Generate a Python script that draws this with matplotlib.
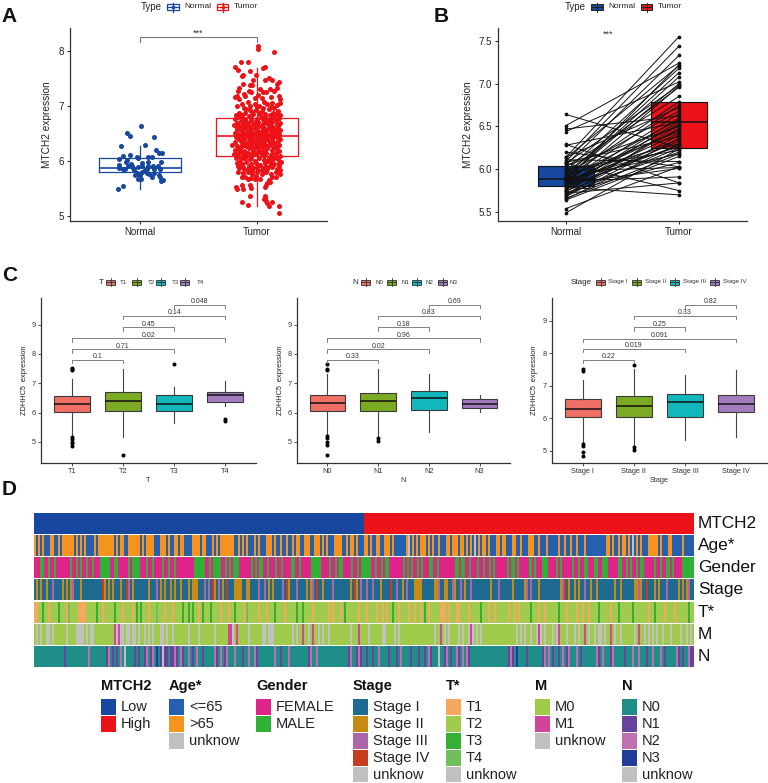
import numpy as np
import matplotlib
matplotlib.use('Agg')
import matplotlib.pyplot as plt
from matplotlib.colors import ListedColormap
from matplotlib.patches import Rectangle

plt.rcParams['font.family'] = ['Liberation Sans', 'DejaVu Sans']

# Panel A points (x is the jittered position)
normal_points = [
    (1.01, 6.64), (0.89, 6.51), (0.91, 6.45), (1.12, 6.44), (0.84, 6.28), (1.04, 6.29), (1.14, 6.21), (1.16, 6.15),
    (1.19, 6.14), (0.85, 6.09), (0.91, 6.11), (1.10, 6.08), (1.07, 6.07), (0.98, 6.06), (0.97, 6.07), (0.82, 6.04),
    (0.89, 6.02), (0.88, 5.98), (1.02, 5.97), (1.07, 5.98), (1.18, 5.98), (0.92, 5.95), (0.82, 5.93), (0.93, 5.92),
    (1.02, 5.91), (1.07, 5.91), (1.11, 5.91), (1.15, 5.92), (0.90, 5.91), (0.98, 5.89), (0.82, 5.88), (0.85, 5.86),
    (0.87, 5.86), (0.94, 5.87), (1.06, 5.86), (1.12, 5.85), (1.17, 5.86), (1.02, 5.81), (1.06, 5.78), (1.08, 5.77),
    (1.12, 5.79), (0.97, 5.79), (0.96, 5.74), (0.98, 5.76), (0.98, 5.68), (1.01, 5.68), (1.10, 5.72), (1.16, 5.74),
    (1.17, 5.72), (1.18, 5.64), (1.20, 5.65), (0.85, 5.54), (0.81, 5.49), (1.04, 5.84), (0.95, 5.83), (1.00, 5.74),
]
tumor_points = [
    (2.01, 8.10), (2.01, 8.04), (2.15, 7.98), (1.86, 7.81), (1.92, 7.81), (1.81, 7.71), (1.84, 7.66), (2.05, 7.69),
    (2.07, 7.71), (1.87, 7.54), (1.88, 7.56), (1.94, 7.63), (1.99, 7.56), (2.10, 7.51), (2.07, 7.47), (2.19, 7.44),
    (2.17, 7.40), (1.88, 7.41), (1.97, 7.48), (1.96, 7.38), (1.94, 7.39), (2.13, 7.47), (1.85, 7.33), (1.84, 7.28),
    (1.89, 7.22), (1.81, 7.16), (1.83, 7.18), (1.85, 7.12), (1.90, 7.18), (1.93, 7.27), (1.95, 7.25), (2.03, 7.31),
    (2.05, 7.25), (2.08, 7.26), (2.11, 7.31), (2.15, 7.28), (2.17, 7.32), (2.19, 7.18), (2.20, 7.13), (2.12, 7.17),
    (2.04, 7.15), (2.01, 7.21), (1.98, 7.14), (1.92, 7.08), (1.87, 7.03), (1.83, 7.00), (1.89, 6.96), (1.94, 7.01),
    (1.98, 7.04), (2.02, 7.00), (2.06, 7.07), (2.09, 7.03), (2.13, 7.06), (2.17, 7.02), (2.20, 7.05), (2.15, 6.97),
    (2.10, 6.94), (2.05, 6.96), (1.99, 6.93), (1.96, 6.90), (1.91, 6.94), (1.85, 6.88), (1.82, 6.83), (1.81, 6.76),
    (1.84, 6.80), (1.87, 6.84), (1.93, 6.82), (1.97, 6.85), (2.02, 6.87), (2.07, 6.86), (2.11, 6.84), (2.14, 6.88),
    (2.18, 6.91), (2.20, 6.84), (2.19, 6.78), (2.16, 6.74), (2.12, 6.78), (2.08, 6.76), (2.04, 6.79), (2.00, 6.77),
    (1.95, 6.74), (1.90, 6.76), (1.86, 6.72), (1.83, 6.70), (1.80, 6.66), (1.85, 6.64), (1.88, 6.67), (1.92, 6.69),
    (1.97, 6.68), (2.01, 6.71), (2.05, 6.68), (2.09, 6.70), (2.13, 6.71), (2.17, 6.68), (2.20, 6.70), (2.18, 6.63),
    (2.14, 6.62), (2.10, 6.64), (2.06, 6.61), (2.02, 6.63), (1.98, 6.60), (1.94, 6.62), (1.90, 6.60), (1.86, 6.57),
    (1.83, 6.58), (1.81, 6.52), (1.84, 6.50), (1.88, 6.53), (1.92, 6.55), (1.96, 6.52), (2.00, 6.56), (2.04, 6.54),
    (2.08, 6.57), (2.12, 6.55), (2.16, 6.57), (2.20, 6.56), (2.19, 6.49), (2.15, 6.50), (2.11, 6.48), (2.07, 6.50),
    (2.03, 6.47), (1.99, 6.49), (1.95, 6.46), (1.91, 6.48), (1.87, 6.45), (1.82, 6.43), (1.85, 6.40), (1.89, 6.41),
    (1.93, 6.42), (1.97, 6.39), (2.01, 6.42), (2.05, 6.40), (2.09, 6.43), (2.13, 6.41), (2.17, 6.44), (2.20, 6.40),
    (2.18, 6.36), (2.14, 6.34), (2.10, 6.37), (2.06, 6.33), (2.02, 6.36), (1.98, 6.32), (1.94, 6.35), (1.90, 6.33),
    (1.86, 6.36), (1.81, 6.35), (1.79, 6.30), (1.83, 6.28), (1.87, 6.30), (1.91, 6.27), (1.95, 6.29), (1.99, 6.26),
    (2.03, 6.30), (2.07, 6.27), (2.11, 6.29), (2.15, 6.26), (2.19, 6.30), (2.17, 6.22), (2.13, 6.20), (2.09, 6.23),
    (2.05, 6.19), (2.01, 6.22), (1.97, 6.20), (1.93, 6.23), (1.89, 6.19), (1.85, 6.22), (1.81, 6.20), (1.80, 6.13),
    (1.84, 6.15), (1.88, 6.12), (1.92, 6.14), (1.96, 6.11), (2.00, 6.15), (2.04, 6.12), (2.08, 6.14), (2.12, 6.11),
    (2.16, 6.14), (2.20, 6.10), (2.18, 6.04), (2.21, 5.99), (2.14, 6.03), (2.10, 6.06), (2.06, 6.02), (2.02, 6.05),
    (1.98, 6.01), (1.94, 6.04), (1.90, 6.06), (1.86, 6.03), (1.82, 6.05), (1.83, 5.97), (1.87, 5.95), (1.91, 5.98),
    (1.95, 5.94), (1.99, 5.97), (2.03, 5.93), (2.07, 5.96), (2.11, 5.92), (2.15, 5.95), (2.19, 5.91), (2.20, 5.84),
    (2.17, 5.86), (2.13, 5.89), (2.09, 5.85), (2.05, 5.88), (2.01, 5.84), (1.97, 5.87), (1.93, 5.89), (1.89, 5.85),
    (1.85, 5.88), (1.84, 5.81), (1.88, 5.78), (1.92, 5.80), (1.96, 5.76), (2.00, 5.80), (2.04, 5.77), (2.08, 5.81),
    (2.12, 5.77), (2.20, 5.76), (2.16, 5.72), (2.13, 5.71), (2.10, 5.66), (2.11, 5.62), (2.09, 5.60), (2.03, 5.68),
    (1.99, 5.73), (1.95, 5.70), (1.92, 5.67), (1.90, 5.71), (1.87, 5.72), (1.94, 5.57), (1.95, 5.52), (1.98, 5.67),
    (1.82, 5.53), (1.83, 5.50), (1.88, 5.50), (1.87, 5.57), (1.94, 5.37), (2.07, 5.53), (2.08, 5.56), (2.07, 5.37),
    (2.07, 5.33), (2.06, 5.31), (2.08, 5.28), (2.09, 5.24), (2.10, 5.19), (2.13, 5.25), (2.19, 5.18), (2.19, 5.06),
    (1.92, 5.21), (1.87, 5.25), (1.83, 6.60), (1.88, 6.35), (1.92, 6.28), (1.96, 6.44), (2.00, 6.34), (2.04, 6.25),
    (2.08, 6.45), (2.12, 6.38), (2.16, 6.46), (1.84, 6.10), (1.90, 6.17), (1.94, 6.40), (2.02, 6.52), (2.10, 6.59),
    (1.86, 6.47), (1.98, 6.66), (2.06, 6.72), (2.14, 6.52), (1.89, 6.08), (1.93, 5.92), (2.07, 6.18), (2.11, 6.01),
    (1.95, 6.58), (2.03, 6.38), (1.85, 5.99), (2.15, 6.32), (1.97, 6.16), (2.05, 6.48), (1.91, 6.64), (2.09, 6.28),
    (1.90, 6.50), (1.93, 6.37), (1.96, 6.25), (1.99, 6.40), (2.02, 6.28), (2.05, 6.34), (2.08, 6.40), (2.11, 6.33),
    (2.14, 6.44), (2.17, 6.28), (1.86, 6.26), (1.89, 6.30), (1.93, 6.50), (1.96, 6.35), (1.99, 6.53), (2.02, 6.44),
    (2.05, 6.60), (2.08, 6.52), (2.11, 6.67), (2.14, 6.58), (2.17, 6.52), (1.88, 6.61), (1.91, 6.71), (1.95, 6.79),
    (1.99, 6.72), (2.03, 6.83), (2.07, 6.80), (2.11, 6.73), (2.15, 6.80), (1.87, 6.78), (1.90, 6.88), (1.94, 6.92),
    (2.00, 6.99), (2.04, 6.91), (2.12, 6.99), (2.17, 6.86), (1.87, 6.16), (1.91, 6.09), (1.95, 6.05), (1.99, 6.12),
    (2.03, 6.16), (2.06, 6.09), (2.09, 6.01), (2.13, 6.13), (2.16, 6.07), (2.19, 6.18), (1.84, 5.92), (1.88, 5.90),
    (1.92, 5.85), (1.96, 5.82), (2.00, 5.90), (2.04, 5.83), (2.08, 5.90), (2.12, 5.97), (2.16, 5.81), (2.19, 5.97),
]
normal_box = dict(med=5.88, q1=5.80, q3=6.05, whislo=5.49, whishi=6.28, fliers=[])
tumor_box = dict(med=6.45, q1=6.10, q3=6.78, whislo=5.18, whishi=7.70, fliers=[])

# Panel B paired samples
paired_normal = [6.64, 6.51, 6.47, 6.44, 6.29, 6.28, 6.20, 6.14, 6.14, 6.13, 6.11, 6.09, 6.08, 6.07, 6.07,
                 6.05, 6.04, 6.03, 6.00, 5.98, 5.98, 5.96, 5.95, 5.94, 5.92, 5.91, 5.90, 5.90, 5.89, 5.89,
                 5.88, 5.87, 5.87, 5.86, 5.85, 5.85, 5.84, 5.84, 5.83, 5.82, 5.82, 5.81, 5.80, 5.79, 5.78,
                 5.77, 5.76, 5.75, 5.74, 5.73, 5.72, 5.71, 5.70, 5.69, 5.68, 5.66, 5.65, 5.64, 5.54, 5.49]
paired_tumor = [6.25, 7.24, 6.62, 7.02, 5.84, 6.55, 6.03, 7.55, 6.72, 7.21, 6.09, 7.44, 6.38, 6.98, 5.75,
                7.33, 6.50, 6.85, 6.22, 7.18, 6.02, 6.96, 6.68, 6.30, 7.13, 6.44, 7.00, 6.79, 6.18, 7.08,
                6.58, 6.26, 7.22, 5.91, 6.46, 6.75, 6.35, 6.97, 6.01, 6.53, 6.65, 6.42, 6.28, 5.70, 6.60,
                6.33, 6.56, 6.20, 6.48, 6.08, 5.84, 6.40, 6.25, 6.52, 6.36, 6.18, 6.30, 6.15, 6.03, 6.24]
paired_boxes = [dict(med=5.88, q1=5.80, q3=6.04, whislo=5.88, whishi=5.88, fliers=[]),
                dict(med=6.55, q1=6.25, q3=6.78, whislo=6.55, whishi=6.55, fliers=[])]

# Panel C box stats
t_labels = ['T1', 'T2', 'T3', 'T4']
t_stats = [
    dict(med=6.31, q1=6.03, q3=6.56, whislo=5.25, whishi=7.15, fliers=[7.44, 7.50, 7.52, 5.18, 5.10, 5.00, 4.95, 4.85]),
    dict(med=6.38, q1=6.05, q3=6.70, whislo=5.17, whishi=7.48, fliers=[4.55]),
    dict(med=6.30, q1=6.05, q3=6.60, whislo=5.63, whishi=6.88, fliers=[7.65]),
    dict(med=6.60, q1=6.35, q3=6.70, whislo=6.22, whishi=7.08, fliers=[5.78, 5.72]),
]
t_pvalues = ['0.1', '0.71', '0.02', '0.45', '0.14', '0.048']
n_labels = ['N0', 'N1', 'N2', 'N3']
n_stats = [
    dict(med=6.32, q1=6.05, q3=6.60, whislo=5.25, whishi=7.33, fliers=[7.65, 7.50, 7.45, 5.20, 5.15, 4.98, 4.88, 4.55]),
    dict(med=6.38, q1=6.05, q3=6.66, whislo=5.20, whishi=7.48, fliers=[5.13, 5.03]),
    dict(med=6.50, q1=6.08, q3=6.75, whislo=5.35, whishi=7.33, fliers=[]),
    dict(med=6.30, q1=6.15, q3=6.46, whislo=6.03, whishi=6.60, fliers=[]),
]
n_pvalues = ['0.33', '0.02', '0.96', '0.18', '0.83', '0.69']
stage_labels = ['Stage I', 'Stage II', 'Stage III', 'Stage IV']
stage_stats = [
    dict(med=6.30, q1=6.05, q3=6.58, whislo=5.25, whishi=7.17, fliers=[7.52, 7.45, 5.20, 5.15, 4.97, 4.86]),
    dict(med=6.37, q1=6.05, q3=6.68, whislo=5.15, whishi=7.50, fliers=[7.65, 5.12, 5.02]),
    dict(med=6.50, q1=6.04, q3=6.75, whislo=5.35, whishi=7.33, fliers=[]),
    dict(med=6.44, q1=6.20, q3=6.72, whislo=5.42, whishi=7.48, fliers=[]),
]
stage_pvalues = ['0.22', '0.019', '0.091', '0.25', '0.33', '0.82']
# bracket heights for the T and N panels, then for Stage
bracket_pairs = [(1, 2), (1, 3), (1, 4), (2, 3), (2, 4), (3, 4)]
bracket_y = [7.80, 8.17, 8.53, 8.92, 9.30, 9.68]
bracket_y_stage = [7.79, 8.13, 8.44, 8.80, 9.14, 9.48]

# Panel D annotation tracks, one character per sample column
track_mtch2 = 'L' * 165 + 'H' * 165
track_age = (
    'bababaaabbaababbbbbbabababaaaababbbbbbbbababbaabbbbbbab'
    'abbbbaaabbbabaabbabbaaaabbbbabbaaabababbbbbbbaabababaaa'
    'babaaabbbabaabaabaababbaabbbaabbbababaaabbbbaababbabaaa'
    'bbabaabbaabbbabaaaaaabuabababbbababaabaaabbabbbabbababa'
    'uababbabaaabbabbaaabbaabaaabbbaabaaabaaaaabaabaabaabaaa'
    'baaaaaaaaaabbabaababbabauababaaabbbbbabaaabbaaaaabaaaaa'
)
track_gender = (
    'fffmmffmffmfffffffmffmfmffmffmfffmmmmmffmmfffffmfmmmmff'
    'fmffmffffmffmffmfffffffffmmmmmffmfmmmmffmfmfmmmffffffmf'
    'mfmmffmfffmffmffffmmffmfffffmmmmmffffmffmfmmffffmffmfmm'
    'mmmffmffmfmmfffffffmfmfmffmfmfffmmffmffffffffmmfmmffmff'
    'fmffmffmfmffffffmfmmfmfffffmfmfffmmmffffmfmfffffmffmffm'
    'mfffmmffmmmfffffmmffmfmffmfmmfffffmffmffmmfmffffmmmmmm'
)
track_stage = (
    '1212112113111121212311121111111111421212111211431211111'
    '1121113121211212112111212221113131421312141112222112211'
    '1131131212111131421113111121231411211113111111112142131'
    '1311311121111411311213111222211111122311221132113121131'
    '1111111121113111111211111231311121111111111234121121211'
    '3112112111111112112111111223211411121211131111121212311'
)
track_t = (
    '1122322122223222142222111122222322122222322212222123232'
    '2212224222122212222322323221232223222212221223222214222'
    '2212221222322221222223223222212222222121222123222222122'
    '2122221221212232212222122122123212222211121222112222122'
    '2223222122122222212212122222322212212222223222122221221'
    '2212222322222122232222223222222212232222122221222222322'
)
track_m = (
    '0u0u00uu0u000000u0000uuuu0u0uu00000000001u1uu0uu0uu0u00'
    'u0u0u000uu0u00u0000000u0000u0000000u00000011u0100000u00'
    '0000uu0uuu000000000u0u00100u0100u0u00u0000000000u000100'
    '00u000000uu0000u0u00000000000000000u0010u0u0000u0u00u1u'
    '0u0u00000000000000000u0u0u00u00u1u0u000u0u1000u000u0u00'
    '10u00u0uu0u0010u00u000000u0100u0u0u0u00u000u0000u00u0u0'
)
track_n = (
    '000000000000000100000000000200000000120101020u000010100'
    '120120301u110112102100201020010000021020120002000100200'
    '2100000000200100020000000001200200000000000000012001210'
    '0100100200001000102000010001001021000u00120100210202100'
    '0000000000000000012103000010000000120201001020120002010'
    '0000002102000120000010002002000100200020100000210100211'
)

# Colours per track value
track_colors = {
    'MTCH2': {'L': '#17479e', 'H': '#ed1118'},
    'Age*': {'a': '#2560b0', 'b': '#f7941d', 'u': '#c0c0c0'},
    'Gender': {'f': '#de2488', 'm': '#2eb135'},
    'Stage': {'1': '#1f6a90', '2': '#c78a12', '3': '#aa66a8', '4': '#c43e1d', 'u': '#c0c0c0'},
    'T*': {'1': '#f5a95f', '2': '#a0cb4e', '3': '#35b035', '4': '#6fc05a', 'u': '#c0c0c0'},
    'M': {'0': '#a0ca4c', '1': '#d0449a', 'u': '#c0c0c0'},
    'N': {'0': '#1f8e88', '1': '#66439c', '2': '#bf70b0', '3': '#203c98', 'u': '#c0c0c0'},
}
track_data = {'MTCH2': track_mtch2, 'Age*': track_age, 'Gender': track_gender, 'Stage': track_stage,
              'T*': track_t, 'M': track_m, 'N': track_n}
legend_names = {
    'MTCH2': ['Low', 'High'],
    'Age*': ['<=65', '>65', 'unknow'],
    'Gender': ['FEMALE', 'MALE'],
    'Stage': ['Stage I', 'Stage II', 'Stage III', 'Stage IV', 'unknow'],
    'T*': ['T1', 'T2', 'T3', 'T4', 'unknow'],
    'M': ['M0', 'M1', 'unknow'],
    'N': ['N0', 'N1', 'N2', 'N3', 'unknow'],
}

BLUE = '#17479e'
RED = '#ed1118'
box_colors = ['#ef6f64', '#7caa24', '#11b7bb', '#a37cc0']
AXIS = '#333333'
W, H = 768, 783

fig = plt.figure(figsize=(W / 100, H / 100), dpi=100)


def px_axes(left, top, right, bottom):
    ax = fig.add_axes([left / W, 1 - bottom / H, (right - left) / W, (bottom - top) / H])
    ax.spines[['top', 'right']].set_visible(False)
    ax.spines[['left', 'bottom']].set_color(AXIS)
    ax.spines[['left', 'bottom']].set_linewidth(0.9)
    return ax


def ylabel_at(ax, text, x_px, left, right, size):
    ax.set_ylabel(text, fontsize=size, color='#222222')
    ax.yaxis.set_label_coords((x_px - left) / (right - left), 0.5)


# Panel A
left, right = 70, 327
ax = px_axes(left, 28, right, 220.5)
ax.set_xlim(0.4, 2.6)
ax.set_ylim(4.92, 8.42)
for stats, pos, col, points in [(normal_box, 1, BLUE, normal_points), (tumor_box, 2, RED, tumor_points)]:
    ax.bxp([stats], positions=[pos], widths=0.7, showcaps=False, showfliers=False,
           boxprops=dict(color=col, lw=0.9), medianprops=dict(color=col, lw=1.2),
           whiskerprops=dict(color=col, lw=0.9), manage_ticks=False)
    pts = np.array(points)
    ax.scatter(pts[:, 0], pts[:, 1], s=13, color=col, linewidths=0, zorder=3)
ax.plot([1, 1, 2, 2], [8.17, 8.26, 8.26, 8.17], color='#777777', lw=0.8)
ax.text(1.5, 8.25, '***', ha='center', va='bottom', fontsize=6.5, color='#333333')
ax.set_xticks([1, 2], ['Normal', 'Tumor'])
ax.set_yticks([5, 6, 7, 8])
ax.tick_params(labelsize=7, length=2.5, width=0.7, pad=2, colors='#222222')
ylabel_at(ax, 'MTCH2 expression', 52, left, right, 7.3)

# Panel B
left, right = 498, 747
ax = px_axes(left, 28, right, 221)
ax.set_xlim(0.4, 2.6)
ax.set_ylim(5.395, 7.65)
bp = ax.bxp(paired_boxes, positions=[1, 2], widths=0.5, showcaps=False, showfliers=False, patch_artist=True,
            boxprops=dict(edgecolor='#111111', lw=0.8), medianprops=dict(color='#111111', lw=1.1),
            whiskerprops=dict(lw=0), manage_ticks=False)
for patch, col in zip(bp['boxes'], [BLUE, RED]):
    patch.set_facecolor(col)
for a, b in zip(paired_normal, paired_tumor):
    ax.plot([1, 2], [a, b], color='#111111', lw=0.7, marker='o', ms=1.7, zorder=3)
ax.text(1.37, 7.53, '***', ha='center', va='bottom', fontsize=6.5, color='#333333')
ax.set_xticks([1, 2], ['Normal', 'Tumor'])
ax.set_yticks([5.5, 6, 6.5, 7, 7.5], ['5.5', '6.0', '6.5', '7.0', '7.5'])
ax.tick_params(labelsize=7, length=2.5, width=0.7, pad=2, colors='#222222')
ylabel_at(ax, 'MTCH2 expression', 473, left, right, 7.3)


# Panel C
def group_panel(left, right, ylims, stats, labels, pvalues, brackets, yticks, xlabel, ylabel_x):
    ax = px_axes(left, 298, right, 463)
    ax.set_xlim(0.4, 4.6)
    ax.set_ylim(*ylims)
    pos = [1, 2, 3, 4]
    bp = ax.bxp(stats, positions=pos, widths=0.7, showcaps=False, patch_artist=True,
                boxprops=dict(edgecolor='#3a3a3a', lw=0.8), medianprops=dict(color='#111111', lw=1.1),
                whiskerprops=dict(color='#444444', lw=0.8),
                flierprops=dict(marker='o', ms=1.9, mfc='black', mec='black'), manage_ticks=False)
    for patch, col in zip(bp['boxes'], box_colors):
        patch.set_facecolor(col)
    tip = 0.12 * (ylims[1] - ylims[0]) / 5.63
    for (i, j), y, p in zip(bracket_pairs, brackets, pvalues):
        ax.plot([i, i, j, j], [y - tip, y, y, y - tip], color='#777777', lw=0.65)
        ax.text((i + j) / 2, y - tip * 0.15, p, ha='center', va='bottom', fontsize=5, color='#333333')
    ax.set_xticks(pos, labels)
    ax.set_yticks(yticks)
    ax.tick_params(labelsize=5.3, length=2, width=0.6, pad=1.5, colors='#333333')
    ax.set_xlabel(xlabel, fontsize=5.3, labelpad=1.5, color='#333333')
    ylabel_at(ax, 'ZDHHC5  expression', ylabel_x, left, right, 5.3)


group_panel(41, 256, (4.28, 9.91), t_stats, t_labels, t_pvalues, bracket_y, [5, 6, 7, 8, 9], 'T', 28)
group_panel(297, 510, (4.28, 9.91), n_stats, n_labels, n_pvalues, bracket_y, [5, 6, 7, 8, 9], 'N', 284)
group_panel(552, 767, (4.63, 9.69), stage_stats, stage_labels, stage_pvalues, bracket_y_stage,
            [5, 6, 7, 8, 9], 'Stage', 538)

# Panel D tracks
track_tops = [513.3, 535, 557.3, 579.3, 601.7, 624, 646.3]
for (name, values), top in zip(track_data.items(), track_tops):
    ax = fig.add_axes([34.3 / W, 1 - (top + 21) / H, (693.5 - 34.3) / W, 21 / H])
    codes = list(track_colors[name])
    row = np.array([[codes.index(c) for c in values]])
    ax.imshow(row, aspect='auto', interpolation='nearest', vmin=0, vmax=len(codes) - 1,
              cmap=ListedColormap(list(track_colors[name].values())))
    ax.axis('off')
    fig.text(698 / W, 1 - (top + 10.5) / H, name, fontsize=12.4, va='center', ha='left', color='#111111')

# Overlay in pixel coordinates for panel letters and legends
ov = fig.add_axes([0, 0, 1, 1], zorder=10)
ov.set_xlim(0, W)
ov.set_ylim(H, 0)
ov.axis('off')
ov.patch.set_alpha(0)

for letter, x, y in [('A', 1, 22), ('B', 434, 22), ('C', 2, 281), ('D', 2, 495)]:
    ov.text(x, y, letter, fontsize=15, fontweight='bold', va='baseline', color='#111111')


def key(x0, x1, yc, h, face, edge, lw=0.9, dot=False):
    ov.add_patch(Rectangle((x0, yc - h / 2), x1 - x0, h, facecolor=face, edgecolor=edge, lw=lw))
    xm = (x0 + x1) / 2
    ov.plot([xm, xm], [yc - h / 2 - 1.5, yc + h / 2 + 1.5], color=edge, lw=lw)
    ov.plot([x0, x1], [yc, yc], color=edge, lw=lw)
    if dot:
        ov.scatter([xm], [yc], s=7, color=edge, linewidths=0, zorder=5)


# Legends of A and B
ov.text(141, 7, 'Type', fontsize=7, va='center', color='#222222')
key(167, 179, 7, 6, 'white', BLUE, dot=True)
ov.text(184, 7, 'Normal', fontsize=6, va='center', color='#222222')
key(217, 228, 7, 6, 'white', RED, dot=True)
ov.text(234, 7, 'Tumor', fontsize=6, va='center', color='#222222')

ov.text(565, 7, 'Type', fontsize=7, va='center', color='#222222')
key(591, 603, 7, 6, BLUE, '#222222', lw=0.7)
ov.text(608, 7, 'Normal', fontsize=6, va='center', color='#222222')
key(641, 652, 7, 6, RED, '#222222', lw=0.7)
ov.text(658, 7, 'Tumor', fontsize=6, va='center', color='#222222')

# Legends of C
c_legends = [
    ('T', 99, t_labels, [106, 132, 156, 180], [120, 148, 172, 197]),
    ('N', 352, n_labels, [361, 387, 412, 438], [375, 401, 425, 450]),
    ('Stage', 571, stage_labels, [596, 632, 670, 710], [608, 645, 683, 723]),
]
for title, tx, labels, keys_x, text_x in c_legends:
    ov.text(tx, 282, title, fontsize=5.8, va='center', color='#222222')
    for lab, kx, lx, col in zip(labels, keys_x, text_x, box_colors):
        key(kx, kx + 9, 282, 5, col, '#333333', lw=0.6)
        ov.text(lx, 282, lab, fontsize=4.4, va='center', color='#333333')

# Legend of D
legend_x = {'MTCH2': 101, 'Age*': 169, 'Gender': 256, 'Stage': 353, 'T*': 446, 'M': 535, 'N': 622}
for name, x in legend_x.items():
    ov.text(x, 686, name, fontsize=10.5, fontweight='bold', va='center', color='#111111')
    colors = list(track_colors[name].values())
    for i, (lab, col) in enumerate(zip(legend_names[name], colors)):
        y = 699 + i * 16.9
        ov.add_patch(Rectangle((x, y), 15, 15.8, facecolor=col, edgecolor='none'))
        ov.text(x + 20, y + 8, lab, fontsize=10.5, va='center', color='#222222')

fig.savefig('out.png', dpi=100)
